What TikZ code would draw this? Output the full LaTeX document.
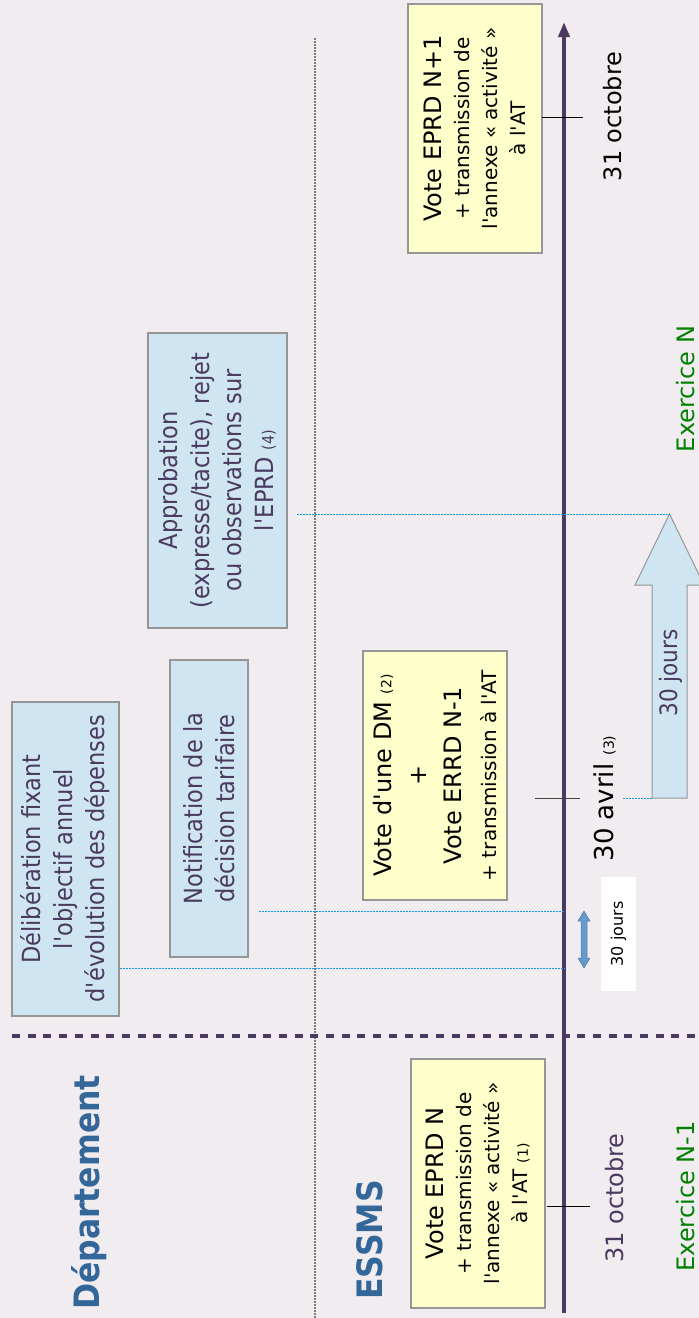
\documentclass[tikz,border=0pt]{standalone}
\usepackage{fontspec}
\setmainfont{DejaVu Sans}
\newfontfamily\cnd[FakeStretch=0.9]{DejaVu Sans}
\usetikzlibrary{arrows.meta}
\definecolor{bg}{RGB}{240,236,240}
\definecolor{axiscol}{RGB}{74,58,96}
\definecolor{ink}{RGB}{74,58,96}
\definecolor{titleblue}{RGB}{51,102,153}
\definecolor{yfill}{RGB}{255,255,204}
\definecolor{bfill}{RGB}{208,229,242}
\definecolor{bord}{RGB}{150,150,150}
\definecolor{dotblue}{RGB}{20,150,230}
\definecolor{dotgray}{RGB}{125,125,125}
\definecolor{dgreen}{RGB}{0,128,0}
\definecolor{darrow}{RGB}{102,153,204}
\newcommand{\ap}{\textquotesingle}
\begin{document}
\begin{tikzpicture}[x=1pt,y=-1pt,
  ybox/.style={draw=bord, line width=1.2pt, fill=yfill, rotate=90, inner sep=0pt, align=center, text=black},
  bbox/.style={draw=bord, line width=1.2pt, fill=bfill, rotate=90, inner sep=0pt, align=center, text=ink,
    font=\cnd\fontsize{25pt}{32pt}\selectfont},
  lbl/.style={rotate=90, inner sep=0pt},
  tickline/.style={line width=1pt, black},
  guide/.style={dotblue, line width=1pt, dash pattern=on 2pt off 1pt},
]
\useasboundingbox (0,0) rectangle (699,1318);
\fill[bg] (0,0) rectangle (699,1318);

% separators
\draw[dotgray, line width=1.5pt, dash pattern=on 2pt off 1pt] (315,38) -- (315,1318);
\draw[axiscol, line width=4pt, dash pattern=on 8pt off 7.7pt] (12,1036) -- (699,1036);

% boxes
\node[ybox, minimum width=249pt, minimum height=134pt, font=\fontsize{20pt}{28pt}\selectfont] (v1) at (478,1183.5)
  {{\fontsize{24pt}{28pt}\selectfont Vote EPRD N}\\+ transmission de\\l\ap annexe « activité »\\à l\ap AT {\fontsize{14pt}{14pt}\selectfont (1)}};
\node[ybox, minimum width=249pt, minimum height=144pt, font=\fontsize{24pt}{35pt}\selectfont] (v2) at (435,775.5)
  {Vote d\ap une DM {\fontsize{14pt}{14pt}\selectfont (2)}\\+\\Vote ERRD N-1\\{\fontsize{20pt}{28pt}\selectfont + transmission à l\ap AT}};
\node[ybox, minimum width=249pt, minimum height=134pt, font=\fontsize{20pt}{28pt}\selectfont] (v3) at (475,128.5)
  {{\fontsize{24pt}{28pt}\selectfont Vote EPRD N+1}\\+ transmission de\\l\ap annexe « activité »\\à l\ap AT};

\node[bbox, minimum width=314pt, minimum height=107pt] (delib) at (65.5,859)
  {Délibération fixant\\l\ap objectif annuel\\d\ap évolution des dépenses};
\node[bbox, minimum width=297pt, minimum height=78pt] (notif) at (209,808.5)
  {Notification de la\\décision tarifaire};
\node[bbox, minimum width=295pt, minimum height=139pt] (appro) at (217.5,480.5)
  {Approbation\\(expresse/tacite), rejet\\ou observations sur\\l\ap EPRD {\fontsize{16pt}{16pt}\selectfont (4)}};

% axis
\coordinate (axb) at (564,1313);
\coordinate (axt) at (564,22);
\draw[axiscol, line width=4pt, -{Triangle[length=15pt,width=11pt]}] (axb) -- (axt);

% ticks
\draw[tickline] (547,1206) -- (590,1206);
\draw[tickline, black!75] (535,798) -- (580,798);
\draw[tickline] (542,117) -- (583,117);

% labels
\node[lbl, text=titleblue, font=\cnd\bfseries\fontsize{35pt}{35pt}\selectfont] (dep) at (89.5,1192.5) {Département};
\node[lbl, text=titleblue, font=\cnd\bfseries\fontsize{35pt}{35pt}\selectfont] (essms) at (370,1240) {ESSMS};
\node[lbl, text=ink, font=\fontsize{24pt}{24pt}\selectfont] (oct1) at (615,1198) {31 octobre};
\node[lbl, text=black, font=\fontsize{24pt}{24pt}\selectfont] (oct2) at (612.5,116.5) {31 octobre};
\node[lbl, text=black, font=\fontsize{26pt}{26pt}\selectfont] (avr) at (605,798.5) {30 avril {\fontsize{14pt}{14pt}\selectfont (3)}};
\node[lbl, text=dgreen, font=\fontsize{24pt}{24pt}\selectfont] (exm1) at (686,1196.5) {Exercice N-1};
\node[lbl, text=dgreen, font=\fontsize{24pt}{24pt}\selectfont] (exn) at (686,389) {Exercice N};

% 30 jours white label and double arrow
\node[fill=white, rotate=90, minimum width=114pt, minimum height=35pt, inner sep=0pt, font=\fontsize{16pt}{16pt}\selectfont] (j30a) at (618.5,934) {30 jours};
\filldraw[fill=darrow, draw=darrow!80!black, line width=0.5pt]
  (584,911) -- (590,921) -- (587,921) -- (587,958) -- (590,958) -- (584,968) -- (578,958) -- (581,958) -- (581,921) -- (578,921) -- cycle;

% block arrow
\filldraw[fill=bfill, draw=bord, line width=1pt]
  (652,798) -- (687,798) -- (687,585) -- (704,585) -- (669.5,514) -- (635,585) -- (652,585) -- cycle;
\node[lbl, text=ink, font=\cnd\fontsize{24pt}{24pt}\selectfont] (j30b) at (671,673) {30 jours};

% guide lines
\coordinate (g968) at (564,968);
\coordinate (g911) at (564,911);
\coordinate (g798) at (652,798);
\coordinate (jt) at (669.5,514);
\draw[guide] (delib.south |- g968) -- (g968);
\draw[guide] ([xshift=10pt]notif.south |- g911) -- (g911);
\draw[guide] ([xshift=7pt]avr.south |- g798) -- (g798);
\draw[guide] ([xshift=9pt]appro.south |- jt) -- (jt);
\end{tikzpicture}
\end{document}
